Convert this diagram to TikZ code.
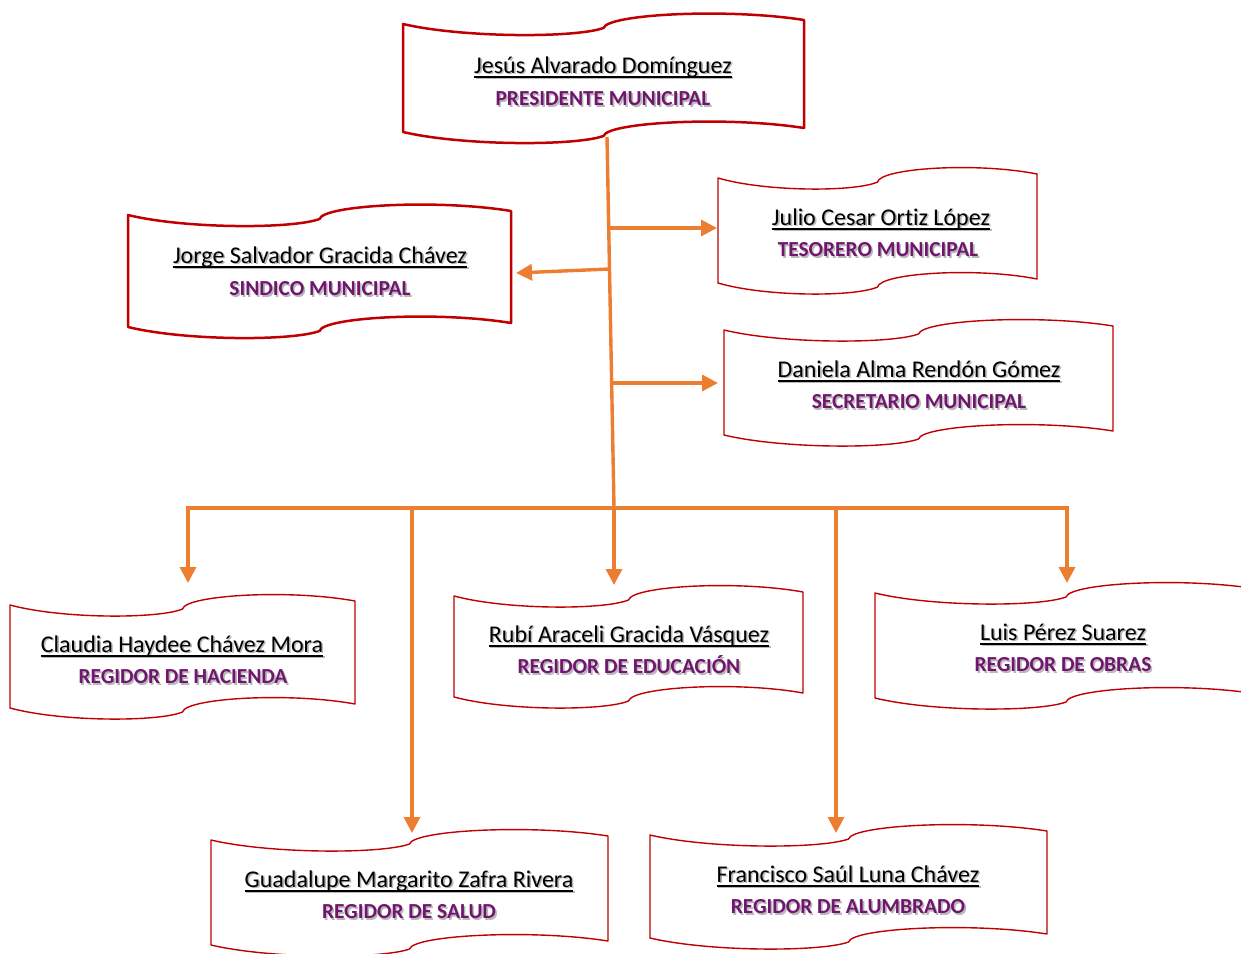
\documentclass[tikz,border=0pt]{standalone}
\usepackage{fontspec}
\setmainfont{Carlito}[Ligatures={NoCommon}]
\usetikzlibrary{arrows.meta}
\definecolor{boxred}{RGB}{192,0,0}
\definecolor{orng}{RGB}{237,125,49}
\definecolor{ttl}{RGB}{112,22,110}
\newcommand\shad[1]{\rlap{\hspace{0.8pt}\raisebox{-0.8pt}{\color{black!28}#1}}#1}
\newcommand\ulname[1]{\setbox0\hbox{#1}\rlap{\rule[-2.3pt]{\wd0}{0.9pt}}\box0}
% wave banner: [style] x0, x1, y top-left, y bottom-left
\newcommand\wavebox[5][]{%
  \pgfmathsetmacro\ww{#3-#2}%
  \draw[wave,#1] (#2,#4)
    .. controls ({#2+0.15*\ww},{#4+14}) and ({#2+0.43*\ww},{#4+14}) .. ({#2+0.5*\ww},{#4+4})
    .. controls ({#2+0.51*\ww},{#4-10}) and ({#2+0.81*\ww},{#4-16}) .. (#3,{#4-4})
    -- (#3,{#5-4})
    .. controls ({#2+0.81*\ww},{#5-16}) and ({#2+0.51*\ww},{#5-10}) .. ({#2+0.5*\ww},{#5+4})
    .. controls ({#2+0.43*\ww},{#5+14}) and ({#2+0.15*\ww},{#5+14}) .. (#2,#5) -- cycle;}
\tikzset{
  wave/.style={draw=boxred, line width=0.7pt, line join=round},
  thick wave/.style={line width=1.25pt},
  nm/.style={anchor=base, inner sep=0pt, font=\fontsize{12}{14}\selectfont},
  tt/.style={anchor=base, inner sep=0pt, font=\fontsize{10.7}{13}\selectfont\bfseries, text=ttl},
  ln/.style={draw=orng, line width=1.7pt},
  arr/.style={ln, -{Triangle[length=8pt,width=8pt]}},
}
\begin{document}
\begin{tikzpicture}[x=0.5pt,y=-0.5pt]
\useasboundingbox (0,0) rectangle (1241,953);
\clip (0,0) rectangle (1241,953);
% banners
\wavebox[thick wave]{403}{804}{24}{132}
\wavebox[thick wave]{128}{511}{215}{327}
\wavebox{718}{1037}{178}{283}
\wavebox{724}{1113}{330}{435}
\wavebox{10}{355}{605}{708}
\wavebox{454}{803}{596}{697}
\wavebox{875}{1257}{593}{698}
\wavebox{211}{608}{840}{945}
\wavebox{650}{1047}{835}{938}
% texts
\node[nm] (presN) at (603,73) {\shad{\ulname{Jesús Alvarado Domínguez}}};
\node[tt] (presT) at (603,105.5) {\shad{PRESIDENTE MUNICIPAL}};
\node[nm] (sinN) at (320,263) {\shad{\ulname{Jorge Salvador Gracida Chávez}}};
\node[tt] (sinT) at (320,295.5) {\shad{SINDICO MUNICIPAL}};
\node[nm] (tesN) at (881,225) {\shad{\ulname{Julio Cesar Ortiz López}}};
\node[tt] (tesT) at (878,256.5) {\shad{TESORERO MUNICIPAL}};
\node[nm] (secN) at (919,377) {\shad{\ulname{Daniela Alma Rendón Gómez}}};
\node[tt] (secT) at (919,408.5) {\shad{SECRETARIO MUNICIPAL}};
\node[nm] (hacN) at (182,652) {\shad{\ulname{Claudia Haydee Chávez Mora}}};
\node[tt] (hacT) at (183,683.5) {\shad{REGIDOR DE HACIENDA}};
\node[nm] (eduN) at (629,642) {\shad{\ulname{Rubí Araceli Gracida Vásquez}}};
\node[tt] (eduT) at (629,673.5) {\shad{REGIDOR DE EDUCACIÓN}};
\node[nm] (obrN) at (1063,640) {\shad{\ulname{Luis Pérez Suarez}}};
\node[tt] (obrT) at (1063,671.5) {\shad{REGIDOR DE OBRAS}};
\node[nm] (salN) at (409,887) {\shad{\ulname{Guadalupe Margarito Zafra Rivera}}};
\node[tt] (salT) at (409,918.5) {\shad{REGIDOR DE SALUD}};
\node[nm] (aluN) at (848,882) {\shad{\ulname{Francisco Saúl Luna Chávez}}};
\node[tt] (aluT) at (848,913.5) {\shad{REGIDOR DE ALUMBRADO}};
% connector points
\coordinate (pS) at (607,137);
\coordinate (jB) at (614,508);
\coordinate (b1) at (608.7,228);
\coordinate (b2) at (609.5,269);
\coordinate (b3) at (612,383);
\coordinate (tesW) at (717,228);
\coordinate (sinE) at (516,273);
\coordinate (secW) at (718,383);
\coordinate (hL) at (188,508);
\coordinate (hR) at (1067,508);
\coordinate (d2) at (412,508);
\coordinate (d4) at (836,508);
\coordinate (hacTip) at (188,583);
\coordinate (salTip) at (412,833);
\coordinate (eduTip) at (614,585);
\coordinate (aluTip) at (836,833);
\coordinate (obrTip) at (1067,583);
% connectors
\draw[ln] (pS) -- (jB);
\draw[arr] (b1) -- (tesW);
\draw[arr] (b2) -- (sinE);
\draw[arr] (b3) -- (secW);
\draw[arr] (jB) -- (hL) -- (hacTip);
\draw[arr] (jB) -- (hR) -- (obrTip);
\draw[arr] (jB) -- (eduTip);
\draw[arr] (d2) -- (salTip);
\draw[arr] (d4) -- (aluTip);
\end{tikzpicture}
\end{document}
